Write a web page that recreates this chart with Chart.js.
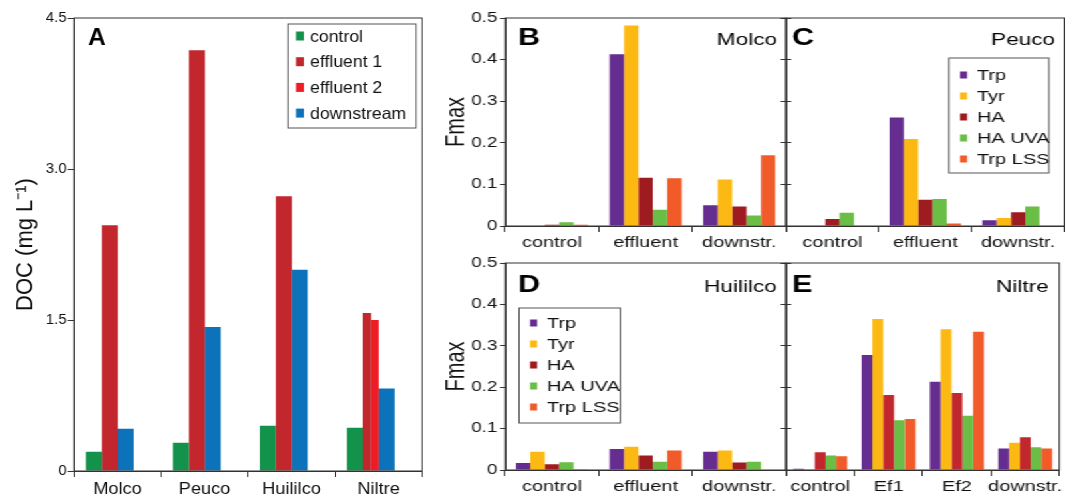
<!DOCTYPE html>
<html>
<head>
<meta charset="utf-8">
<script src="https://cdn.jsdelivr.net/npm/chart.js@4.4.0/dist/chart.umd.min.js"></script>
<style>
  html, body { margin: 0; padding: 0; background: #fff; }
  #fig { position: relative; width: 1065px; height: 498px; overflow: hidden; background: #fff; }
  .wrap { position: absolute; top: 0; height: 498px; transform-origin: 0 0; }
  #wrapA { left: 0; width: 411px; transform: scaleX(1.07); }
  #wrapB { left: 440px; width: 470px; transform: scaleX(1.33); }
  canvas { position: absolute; display: block; }
</style>
</head>
<body>
<div id="fig">
  <div class="wrap" id="wrapA">
    <canvas id="chartA" width="411" height="498" style="left:0;top:0"></canvas>
  </div>
  <div class="wrap" id="wrapB">
    <canvas id="chartB" width="266" height="252" style="left:0;top:0"></canvas>
    <canvas id="chartC" width="218" height="252" style="left:252px;top:0"></canvas>
    <canvas id="chartD" width="266" height="246" style="left:0;top:252px"></canvas>
    <canvas id="chartE" width="218" height="246" style="left:252px;top:252px"></canvas>
  </div>
</div>
<script>
// panel A: DOC per site
const sites = ['Molco', 'Peuco', 'Huililco', 'Niltre'];
const docControl = [0.19, 0.28, 0.45, 0.43];
const docEffluent1 = [2.44, 4.18, 2.73, 1.57];
const docEffluent2 = [null, null, null, 1.50];
const docDownstream = [0.42, 1.43, 2.00, 0.82];

// panels B-E: Fmax per PARAFAC component
const components = ['Trp', 'Tyr', 'HA', 'HA UVA', 'Trp LSS'];
const stations = ['control', 'effluent', 'downstr.'];
const stationsNiltre = ['control', 'Ef1', 'Ef2', 'downstr.'];

const molcoTrp = [0, 0.413, 0.050];
const molcoTyr = [0.001, 0.482, 0.112];
const molcoHA = [0.003, 0.116, 0.047];
const molcoHAUVA = [0.009, 0.039, 0.025];
const molcoTrpLSS = [0.003, 0.115, 0.170];

const peucoTrp = [0.001, 0.261, 0.014];
const peucoTyr = [0.001, 0.209, 0.019];
const peucoHA = [0.017, 0.063, 0.033];
const peucoHAUVA = [0.032, 0.065, 0.047];
const peucoTrpLSS = [0, 0.006, 0];

const huililcoTrp = [0.017, 0.051, 0.044];
const huililcoTyr = [0.044, 0.056, 0.047];
const huililcoHA = [0.014, 0.035, 0.018];
const huililcoHAUVA = [0.019, 0.020, 0.020];
const huililcoTrpLSS = [0.002, 0.047, 0];

const niltreTrp = [0.003, 0.278, 0.213, 0.052];
const niltreTyr = [0.002, 0.365, 0.340, 0.066];
const niltreHA = [0.043, 0.181, 0.186, 0.079];
const niltreHAUVA = [0.035, 0.120, 0.131, 0.055];
const niltreTrpLSS = [0.033, 0.123, 0.334, 0.052];

const siteColors = ['#13924b', '#c1272d', '#ed1c24', '#0c72ba'];
const compColors = ['#662d91', '#fdb913', '#9e1b20', '#6abd45', '#f15a29'];
const compColorsNiltre = ['#662d91', '#fdb913', '#c1272d', '#6abd45', '#f15a29'];

const family = '"Liberation Sans", Arial, Helvetica, sans-serif';
Chart.defaults.font.family = family;
Chart.defaults.color = '#111';

const framePlugin = {
  id: 'frame',
  afterDatasetsDraw(chart) {
    const { ctx, chartArea: a } = chart;
    ctx.save();
    ctx.strokeStyle = '#333';
    ctx.lineWidth = 1;
    ctx.strokeRect(a.left, a.top, a.right - a.left, a.bottom - a.top);
    ctx.restore();
  }
};

const labelPlugin = {
  id: 'panelLabels',
  afterDraw(chart, args, o) {
    const { ctx, chartArea: a } = chart;
    ctx.save();
    ctx.fillStyle = '#000';
    ctx.textBaseline = 'alphabetic';
    ctx.textAlign = 'left';
    ctx.font = 'bold 23px ' + family;
    ctx.fillText(o.letter, a.left + o.letterX, a.top + o.letterY);
    if (o.site) {
      ctx.font = o.siteSize + 'px ' + family;
      ctx.textAlign = 'right';
      ctx.fillText(o.site, a.right - o.siteX, a.top + o.siteY);
    }
    ctx.restore();
  }
};

const boxLegendPlugin = {
  id: 'boxLegend',
  afterDraw(chart, args, o) {
    if (!o.show) return;
    const { ctx, chartArea: a } = chart;
    const x = a.left + o.x, y = a.top + o.y;
    ctx.save();
    ctx.fillStyle = '#fff';
    ctx.fillRect(x, y, o.w, o.h);
    ctx.strokeStyle = '#555';
    ctx.lineWidth = 1;
    ctx.strokeRect(x, y, o.w, o.h);
    ctx.font = o.size + 'px ' + family;
    ctx.textBaseline = 'middle';
    ctx.textAlign = 'left';
    chart.data.datasets.filter(ds => !ds.noLegend).forEach((ds, i) => {
      const cy = y + o.row0 + i * o.gap;
      ctx.fillStyle = ds.backgroundColor;
      ctx.fillRect(x + o.markX, cy - o.markH / 2, o.markW, o.markH);
      ctx.fillStyle = '#111';
      ctx.fillText(ds.label, x + o.textX, cy + 1);
    });
    ctx.restore();
  }
};

// bar centre offset and width, as a share of one category, for slot k of n
function slotPlacement(offset, width, k, n) {
  const span = offset / ((k + 0.5) / n - 0.5);
  return { categoryPercentage: span, barPercentage: width * n / span };
}

function xAxis(height, fontSize) {
  return {
    grid: { drawOnChartArea: false, offset: true, tickLength: 6, color: '#333' },
    border: { color: '#333' },
    ticks: { font: { size: fontSize }, padding: 2, color: '#111', maxRotation: 0, minRotation: 0, autoSkip: false },
    afterFit: s => { s.height = height; }
  };
}

function fmaxAxis(width, showLabels, title) {
  return {
    min: 0, max: 0.5,
    grid: { drawOnChartArea: false, tickLength: 4, color: '#333' },
    border: { color: '#333' },
    ticks: {
      display: showLabels, stepSize: 0.1, padding: 2, color: '#111',
      font: { size: 14 },
      callback: v => v === 0 ? '0' : v.toFixed(1)
    },
    title: { display: title, text: 'Fmax', font: { size: 20 }, padding: { top: 0, bottom: 0 }, color: '#111' },
    afterFit: s => { s.width = width; }
  };
}

// tick marks only, on the right edge of B and D
function rightTicks(width) {
  return {
    position: 'right', min: 0, max: 0.5,
    grid: { drawOnChartArea: false, tickLength: 4, color: '#333' },
    border: { color: '#333' },
    ticks: { display: false, stepSize: 0.1 },
    afterFit: s => { s.width = width; }
  };
}

function compDatasets(series, colors) {
  return series.map((d, i) => ({ label: components[i], data: d, backgroundColor: colors[i] }));
}

function fmaxChart(id, labels, series, colors, opt) {
  const scales = {
    x: xAxis(opt.xHeight, 15),
    y: fmaxAxis(opt.yWidth, opt.yLabels, opt.yLabels)
  };
  if (opt.rightWidth) scales.y2 = rightTicks(opt.rightWidth);
  return new Chart(document.getElementById(id), {
    type: 'bar',
    data: { labels: labels, datasets: compDatasets(series, colors) },
    options: {
      responsive: false,
      animation: false,
      layout: { padding: opt.padding },
      datasets: { bar: { categoryPercentage: opt.catPct, barPercentage: 1 } },
      plugins: {
        legend: { display: false },
        tooltip: { enabled: false },
        panelLabels: opt.text,
        boxLegend: opt.legend || { show: false }
      },
      scales: scales
    },
    plugins: [framePlugin, labelPlugin, boxLegendPlugin]
  });
}

// effluent 1 is drawn half-width where a second effluent exists
const effSingle = docEffluent1.map((v, i) => docEffluent2[i] == null ? v : null);
const effPaired = docEffluent1.map((v, i) => docEffluent2[i] == null ? null : v);

const chartA = new Chart(document.getElementById('chartA'), {
  type: 'bar',
  data: {
    labels: sites,
    datasets: [
      { label: 'control', data: docControl, backgroundColor: siteColors[0], stack: 'left',
        ...slotPlacement(-0.272, 0.184, 0, 2) },
      { label: 'effluent 1', data: effSingle, backgroundColor: siteColors[1], stack: 'left',
        ...slotPlacement(-0.0884, 0.184, 0, 2) },
      { label: 'effluent 1', data: effPaired, backgroundColor: siteColors[1], stack: 'left', noLegend: true,
        ...slotPlacement(-0.1338, 0.0964, 0, 2) },
      { label: 'effluent 2', data: docEffluent2, backgroundColor: siteColors[2], stack: 'left',
        ...slotPlacement(-0.0419, 0.0873, 0, 2) },
      { label: 'downstream', data: docDownstream, backgroundColor: siteColors[3], stack: 'right',
        ...slotPlacement(0.0936, 0.184, 1, 2) }
    ]
  },
  options: {
    responsive: false,
    animation: false,
    layout: { padding: { top: 18, right: 16.6, bottom: 0, left: 0 } },
    plugins: {
      legend: { display: false },
      tooltip: { enabled: false },
      panelLabels: { letter: 'A', letterX: 13, letterY: 27 },
      boxLegend: { show: true, x: 200, y: 6, w: 119.6, h: 104, row0: 12, gap: 25.7,
                   markX: 7.4, markW: 7.5, markH: 9, textX: 20.5, size: 16.5 }
    },
    scales: {
      x: xAxis(27, 17),
      y: {
        min: 0, max: 4.5, stacked: false,
        grid: { drawOnChartArea: false, tickLength: 6, color: '#333' },
        border: { color: '#333' },
        ticks: { stepSize: 1.5, padding: 1, color: '#111', font: { size: 14 },
                 callback: v => v === 0 ? '0' : v.toFixed(1) },
        title: { display: true, text: 'DOC (mg L\u207B\u00B9)', font: { size: 22 },
                 padding: { top: 11, bottom: 0 }, color: '#111' },
        afterFit: s => { s.width = 69.2; }
      }
    }
  },
  plugins: [framePlugin, labelPlugin, boxLegendPlugin]
});

const chartB = fmaxChart('chartB', stations,
  [molcoTrp, molcoTyr, molcoHA, molcoHAUVA, molcoTrpLSS], compColors, {
    padding: { top: 18, right: 0, bottom: 0, left: 0 }, xHeight: 26, yWidth: 49, rightWidth: 5.8,
    yLabels: true, catPct: 0.77,
    text: { letter: 'B', letterX: 9.7, letterY: 27, site: 'Molco', siteX: 6.8, siteY: 27, siteSize: 17 }
  });

const chartC = fmaxChart('chartC', stations,
  [peucoTrp, peucoTyr, peucoHA, peucoHAUVA, peucoTrpLSS], compColors, {
    padding: { top: 18, right: 0.5, bottom: 0, left: 0 }, xHeight: 26, yWidth: 8.2, yLabels: false, catPct: 0.77,
    text: { letter: 'C', letterX: 4.5, letterY: 27, site: 'Peuco', siteX: 7, siteY: 27, siteSize: 17 },
    legend: { show: true, x: 122.5, y: 40, w: 75.2, h: 115, row0: 17, gap: 21,
              markX: 8.3, markW: 5.3, markH: 7, textX: 21, size: 15 }
  });

const chartD = fmaxChart('chartD', stations,
  [huililcoTrp, huililcoTyr, huililcoHA, huililcoHAUVA, huililcoTrpLSS], compColors, {
    padding: { top: 11, right: 0, bottom: 0, left: 0 }, xHeight: 28, yWidth: 49, rightWidth: 5.8,
    yLabels: true, catPct: 0.77,
    text: { letter: 'D', letterX: 9.7, letterY: 29, site: 'Huililco', siteX: 7, siteY: 28.7, siteSize: 17 },
    legend: { show: true, x: 10.5, y: 45, w: 76, h: 115, row0: 15, gap: 21,
              markX: 8.3, markW: 5.3, markH: 7, textX: 21, size: 15 }
  });

const chartE = fmaxChart('chartE', stationsNiltre,
  [niltreTrp, niltreTyr, niltreHA, niltreHAUVA, niltreTrpLSS], compColorsNiltre, {
    padding: { top: 11, right: 0.5, bottom: 0, left: 0 }, xHeight: 28, yWidth: 8.2, yLabels: false, catPct: 0.79,
    text: { letter: 'E', letterX: 4.5, letterY: 29, site: 'Niltre', siteX: 8, siteY: 28.7, siteSize: 17 }
  });
</script>
</body>
</html>
